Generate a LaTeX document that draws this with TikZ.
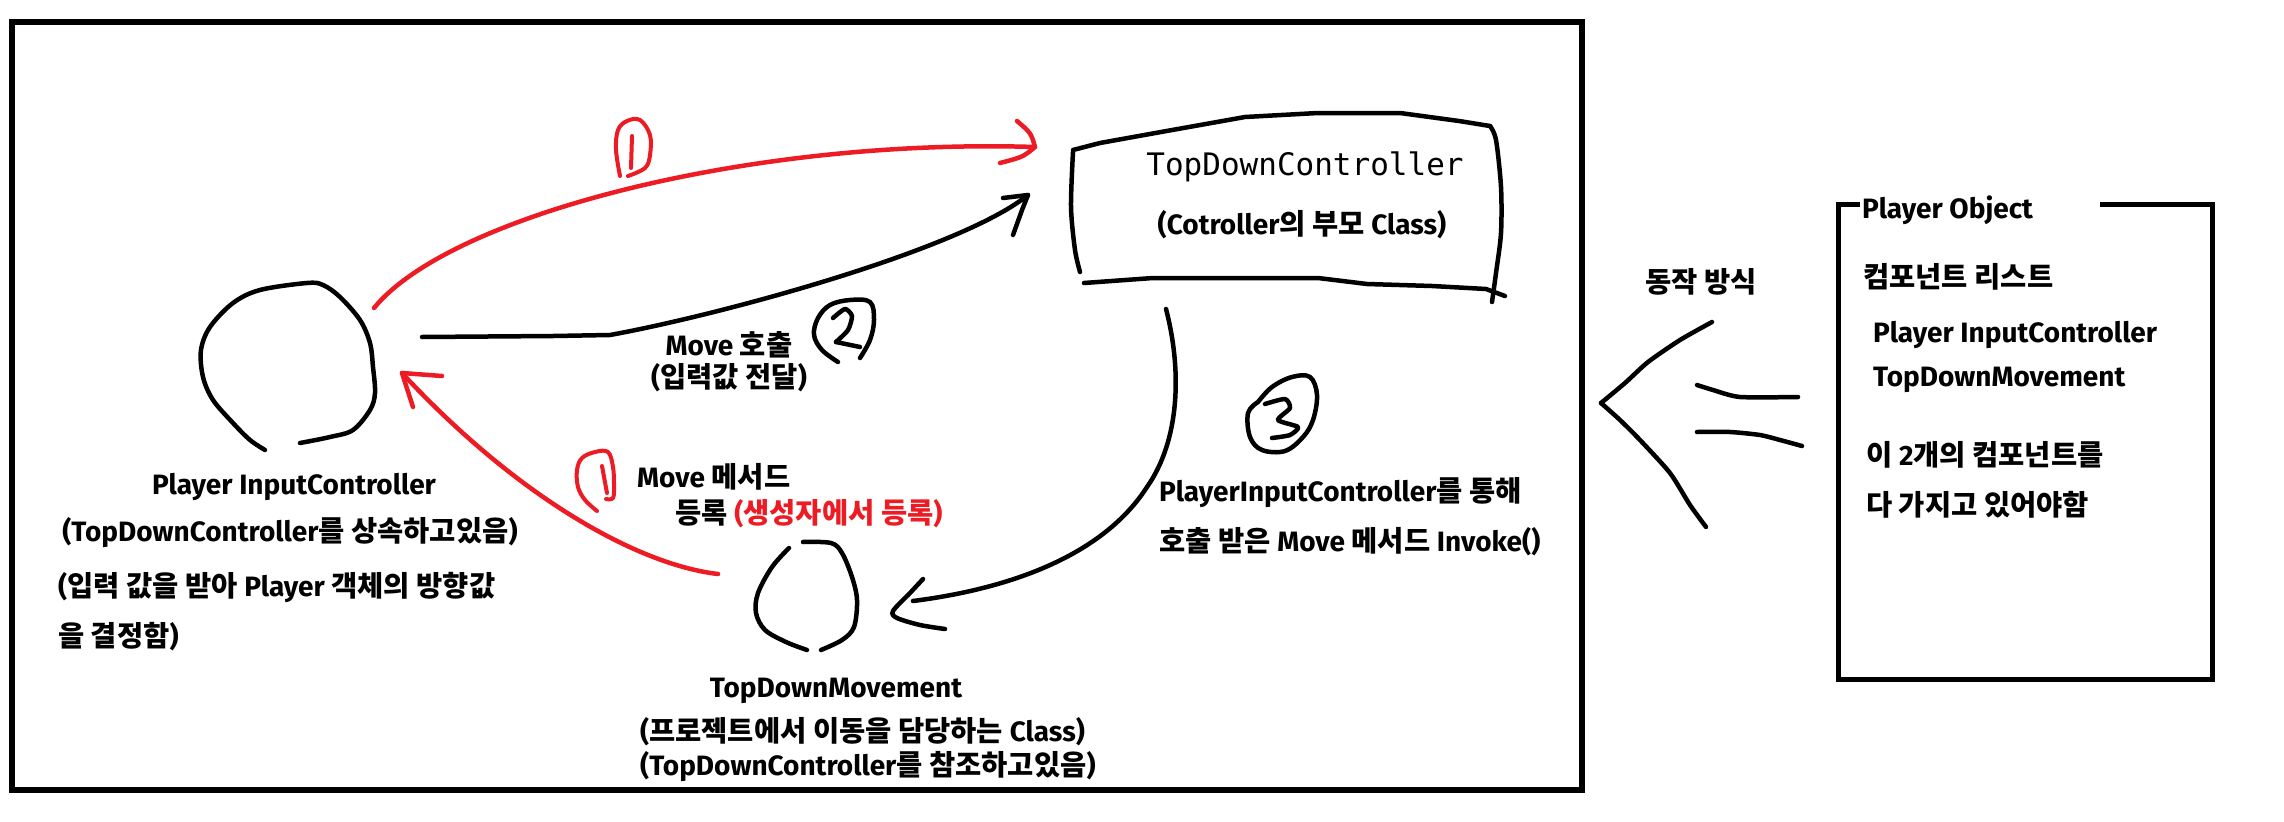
\documentclass[tikz,border=0pt]{standalone}
\usepackage{fontspec}
\setmainfont{Fira Sans}
\newfontfamily\krf{Noto Sans CJK KR}
\newfontfamily\monof{DejaVu Sans Mono}
\definecolor{pred}{RGB}{237,28,36}
\newcommand\hg[1]{{\krf\bfseries\fontsize{28.5}{32}\selectfont #1}}
\tikzset{
 txt/.style={inner sep=0pt, font=\bfseries\fontsize{28}{32}\selectfont},
 mono/.style={inner sep=0pt, font=\monof\fontsize{31}{36}\selectfont},
 pen/.style={line width=4.5pt, line cap=round, line join=round},
 rpen/.style={pen, draw=pred},
 frame/.style={line width=6pt},
 thinframe/.style={line width=5pt},
}
\begin{document}
\begin{tikzpicture}[x=1pt,y=-1pt]
\useasboundingbox (0,0) rectangle (2284,822);
\fill[white] (0,0) rectangle (2284,822);

% main frame
\draw[frame] (12,22) rectangle (1582,790);

% ---------- Player InputController circle ----------
\coordinate (pic) at (288,365);
\draw[pen] plot[smooth,tension=0.55] coordinates {(265,450) (250,440) (233,423) (213,400) (203,377) (201,350) (210,327) (233,303) (260,290) (307,283) (323,285) (340,297) (360,320) (370,343) (373,367) (375,393) (370,410) (353,430) (330,437) (300,443)};

% ---------- TopDownMovement circle ----------
\coordinate (tdm) at (806,597);
\draw[pen] plot[smooth,tension=0.55] coordinates {(789,548) (772,567) (758,593) (756,613) (765,630) (786,642) (807,650)};
\draw[pen] plot[smooth,tension=0.55] coordinates {(803,542) (831,543) (842,553) (852,577) (857,600) (854,627) (842,640) (821,650)};

% ---------- TopDownController box ----------
\coordinate (tdc) at (1287,205);
\draw[pen] plot[smooth,tension=0.5] coordinates {(1080,272) (1075,250) (1071,207) (1073,152)};
\draw[pen] (1073,150) -- (1100,143) -- (1161,132) -- (1245,117) -- (1318,113) -- (1400,113) -- (1459,121) -- (1490,126);
\draw[pen] plot[smooth,tension=0.5] coordinates {(1490,126) (1496,140) (1501,187) (1501,233) (1496,273) (1492,302)};
\draw[pen] (1084,283) -- (1153,278) -- (1318,278) -- (1367,284) -- (1432,286) -- (1486,289) -- (1505,296);

% ---------- connectors ----------
\coordinate (a1s) at (374,308);
\coordinate (a1e) at (1035,147);
\draw[rpen] (a1s) .. controls (450,215) and (750,138) .. (a1e);
\draw[rpen] ([shift={(-18,-26)}]a1e) .. controls ([shift={(-4,-14)}]a1e) .. (a1e) .. controls ([shift={(-12,10)}]a1e) .. ([shift={(-35,16)}]a1e);

\coordinate (a2s) at (422,337);
\coordinate (a2m) at (610,335);
\coordinate (a2e) at (1028,195);
\draw[pen] (a2s) -- (553,336) -- (a2m) .. controls (720,315) and (960,250) .. (a2e);
\draw[pen] ([shift={(-25,3)}]a2e) -- (a2e) -- ([shift={(-6,15)}]a2e) -- ([shift={(-15,40)}]a2e);

\coordinate (a4s) at (718,574);
\coordinate (a4e) at (402,373);
\draw[rpen] (a4s) .. controls (640,565) and (520,500) .. (a4e);
\draw[rpen] ([shift={(40,3)}]a4e) -- (a4e) -- ([shift={(11,34)}]a4e);

\coordinate (a3s) at (1166,309);
\coordinate (a3m) at (1147,487);
\coordinate (a3e) at (913,601);
\coordinate (a3t) at (893,611);
\draw[pen] (a3s) .. controls (1182,370) and (1180,440) .. (a3m) .. controls (1100,560) and (1000,590) .. (a3e);
\draw[pen] plot[smooth,tension=0.5] coordinates {(923,579) (910,593) (a3t) (897,618) (920,625) (945,629)};

% ---------- circled numbers ----------
% red 1 (top)
\draw[rpen,line width=4pt] plot[smooth,tension=0.6] coordinates {(620,176) (616,150) (618,130) (627,121) (640,120) (650,135) (650,155) (645,168) (628,176)};
\draw[rpen,line width=4pt] (632,136) -- (631,168);
% black 2
\draw[pen] plot[smooth,tension=0.6] coordinates {(838,362) (822,350) (814,335) (818,318) (830,305) (850,300) (870,302) (874,320) (870,340) (860,358)};
\draw[pen] plot[smooth,tension=0.4] coordinates {(833,318) (845,309) (852,316) (848,330) (836,342)};
\draw[pen] (836,342) -- (860,347);
% black 3
\draw[pen] plot[smooth,tension=0.6] coordinates {(1258,402) (1272,387) (1292,377) (1310,377) (1317,395) (1313,420) (1303,437) (1285,451) (1262,450) (1250,437) (1248,413) (1258,402)};
\draw[pen] plot[smooth,tension=0.4] coordinates {(1265,404) (1285,399) (1290,408) (1278,420) (1298,427) (1290,435) (1272,438)};
% red 1 (lower)
\draw[rpen,line width=4pt] plot[smooth,tension=0.6] coordinates {(597,511) (585,500) (578,487) (577,470) (582,458) (595,452) (608,452) (613,467) (614,485) (613,498) (606,499)};
\draw[rpen,line width=4pt] (602,466) -- (607,493);

% ---------- texts ----------
\node[txt] (picname) at (294,487) {Player InputController};
\node[txt] (picinh) at (290,533) {(TopDownController\hg{를 상속하고있음})};
\node[txt,anchor=west] (picdesc1) at (58,588) {(\hg{입력 값을 받아} Player \hg{객체의 방향값}};
\node[txt,anchor=west] (picdesc2) at (58,637) {\hg{을 결정함})};

\node[txt] (call1) at (729,345) {Move \hg{호출}};
\node[txt] (call2) at (729,378) {(\hg{입력값 전달})};
\node[txt,anchor=west] (reg1) at (637,477) {Move \hg{메서드}};
\node[txt,anchor=west] (reg2) at (675,514) {\hg{등록} \textcolor{pred}{(\hg{생성자에서 등록})}};

\node[txt] (tdmname) at (836,691) {TopDownMovement};
\node[txt,anchor=west] (tdm1) at (640,732) {(\hg{프로젝트에서 이동을 담당하는} Class)};
\node[txt,anchor=west] (tdm2) at (640,767) {(TopDownController\hg{를 참조하고있음})};

\node[mono] (tdcname) at (1305,167) {TopDownController};
\node[txt] (tdcsub) at (1302,225) {(Cotroller\hg{의 부모} Class)};

\node[txt,anchor=west] (inv1) at (1159,493) {PlayerInputController\hg{를 통해}};
\node[txt,anchor=west] (inv2) at (1159,542) {\hg{호출 받은} Move \hg{메서드} Invoke()};

% ---------- right side ----------
\node[txt] (howto) at (1701,282) {\hg{동작 방식}};
\coordinate (bigtip) at (1601,403);
\draw[pen] plot[smooth,tension=0.4] coordinates {(1712,322) (1680,340) (1648,362) (1625,383) (bigtip)};
\draw[pen] plot[smooth,tension=0.4] coordinates {(bigtip) (1620,420) (1640,440) (1670,473) (1690,505) (1706,527)};
\draw[pen] plot[smooth,tension=0.4] coordinates {(1697,385) (1713,390) (1740,397) (1798,397)};
\draw[pen] plot[smooth,tension=0.4] coordinates {(1697,432) (1730,432) (1760,435) (1780,440) (1802,446)};

\node[txt,anchor=west] (potitle) at (1862,210) {Player Object};
\draw[thinframe] (1860,204) -- (1838,204) -- (1838,679) -- (2212,679) -- (2212,204) -- (2100,204);
\node[txt,anchor=west] (polist) at (1863,277) {\hg{컴포넌트 리스트}};
\node[txt,anchor=west] (po1) at (1873,335) {Player InputController};
\node[txt,anchor=west] (po2) at (1873,380) {TopDownMovement};
\node[txt,anchor=west] (po3) at (1866,455) {\hg{이} 2\hg{개의 컴포넌트를}};
\node[txt,anchor=west] (po4) at (1866,505) {\hg{다 가지고 있어야함}};
\end{tikzpicture}
\end{document}
